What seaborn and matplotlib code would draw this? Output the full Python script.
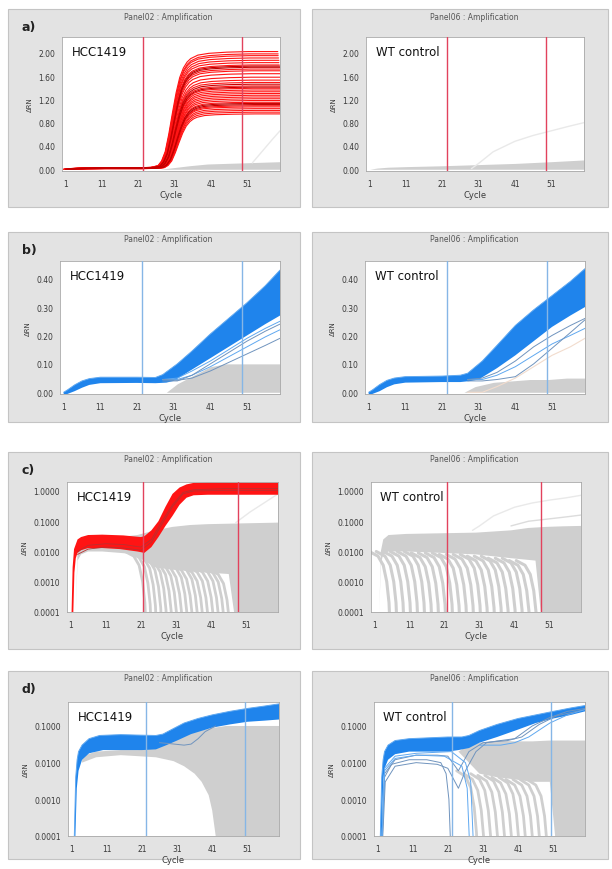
import matplotlib
matplotlib.use("Agg")
import numpy as np
import pandas as pd
import matplotlib.pyplot as plt
import seaborn as sns
from matplotlib.patches import Rectangle
from matplotlib.ticker import FixedLocator, FixedFormatter, NullLocator

sns.set_theme(style="white")
plt.rcParams['font.family'] = ['DejaVu Sans']

# ======================= DATA =======================
x_ticks = [1, 11, 21, 31, 41, 51]
thresholds_ab = [22.3, 49.5]
thresholds_c = [21.6, 48.6]
thresholds_d = [22.3, 50.3]

# ---- a) linear, red (HCC1419) ----
a_cycles = [1, 3, 6, 11, 21, 25, 27, 28, 29, 30, 31, 32, 33, 34, 35, 36, 38, 41, 46, 52, 60]
a_shape = [0.0, 0.006, 0.01, 0.012, 0.012, 0.016, 0.03, 0.07, 0.15, 0.3, 0.48, 0.65,
           0.78, 0.86, 0.91, 0.94, 0.97, 0.985, 0.995, 1.0, 1.0]
a_plateaus_light = [2.02, 1.98, 1.95, 1.91, 1.87, 1.83, 1.79, 1.72, 1.69, 1.64, 1.58,
                    1.53, 1.49, 1.43, 1.39, 1.36, 1.33, 1.30, 1.27, 1.24, 1.21, 1.18,
                    1.15, 1.09, 1.07, 1.04, 1.01, 0.98, 0.95]
a_shifts_light = [-0.6, -0.5, -0.5, -0.4, -0.3, -0.3, -0.2, -0.1, 0.0, 0.0, 0.1,
                  0.2, 0.2, 0.3, 0.4, 0.4, 0.5, 0.5, 0.6, 0.6, 0.7, 0.7,
                  0.8, 0.9, 0.9, 1.0, 1.0, 1.1, 1.2]
a_plateaus_dark = [1.77, 1.75, 1.46, 1.41, 1.13, 1.11]
a_shifts_dark = [-0.1, 0.0, 0.3, 0.4, 0.8, 0.9]
a_left_gray_cycles = [27, 31, 35, 40, 45, 50, 55, 60]
a_left_gray_top = [0.0, 0.03, 0.06, 0.09, 0.10, 0.11, 0.12, 0.13]
a_left_faint_cycles = [52.4, 55, 58, 60]
a_left_faint = [0.11, 0.3, 0.52, 0.66]
a_right_gray_cycles = [1, 3, 6, 11, 21, 31, 41, 51, 60]
a_right_gray_top = [0.0, 0.02, 0.035, 0.045, 0.06, 0.08, 0.10, 0.13, 0.16]
a_right_faint_cycles = [29, 31, 35, 41, 46, 51, 56, 60]
a_right_faint = [0.01, 0.1, 0.3, 0.48, 0.58, 0.66, 0.74, 0.80]

# ---- b) linear, blue ----
b_left_up_cycles = [1, 2, 4, 6, 8, 11, 21, 26, 28, 32, 36, 41, 46, 51, 56, 60]
b_left_up = [0.0, 0.008, 0.026, 0.04, 0.048, 0.053, 0.053, 0.052, 0.062, 0.1, 0.145,
             0.205, 0.26, 0.315, 0.375, 0.43]
b_left_lo_cycles = [1, 2, 4, 6, 8, 11, 21, 26, 29, 31, 36, 41, 46, 51, 56, 60]
b_left_lo = [-0.01, -0.006, 0.004, 0.016, 0.026, 0.032, 0.033, 0.032, 0.034, 0.04,
             0.08, 0.12, 0.16, 0.2, 0.24, 0.27]
b_out_cycles = [28, 32, 36, 41, 46, 51, 56, 60]
b_left_out = [[0.045, 0.05, 0.075, 0.11, 0.15, 0.19, 0.225, 0.25],
              [0.045, 0.045, 0.06, 0.09, 0.125, 0.16, 0.195, 0.22],
              [0.045, 0.042, 0.05, 0.075, 0.105, 0.135, 0.165, 0.19],
              [0.04, 0.04, 0.06, 0.1, 0.14, 0.18, 0.215, 0.24]]
b_left_gray_cycles = [29, 32, 35, 38, 41, 45, 50, 55, 60]
b_left_gray_top = [0.0, 0.03, 0.05, 0.07, 0.09, 0.10, 0.10, 0.10, 0.10]

b_right_up_cycles = [1, 2, 4, 6, 8, 11, 21, 26, 28, 32, 36, 41, 46, 51, 56, 60]
b_right_up = [0.0, 0.008, 0.027, 0.042, 0.05, 0.055, 0.057, 0.06, 0.067, 0.11, 0.165,
              0.235, 0.29, 0.34, 0.39, 0.435]
b_right_lo_cycles = [1, 2, 4, 6, 8, 11, 21, 26, 29, 31, 36, 41, 46, 51, 56, 60]
b_right_lo = [-0.01, -0.006, 0.004, 0.018, 0.028, 0.034, 0.036, 0.036, 0.04, 0.045,
              0.085, 0.13, 0.18, 0.23, 0.27, 0.30]
b_right_out = [[0.045, 0.05, 0.07, 0.11, 0.16, 0.2, 0.235, 0.26],
               [0.045, 0.045, 0.06, 0.09, 0.13, 0.17, 0.2, 0.225],
               [0.04, 0.04, 0.045, 0.055, 0.1, 0.155, 0.21, 0.255]]
b_right_faint = [0.0, 0.0, 0.02, 0.05, 0.09, 0.13, 0.16, 0.19]
b_right_gray_cycles = [27, 30, 35, 40, 45, 50, 55, 60]
b_right_gray_top = [0.0, 0.02, 0.035, 0.04, 0.045, 0.045, 0.05, 0.05]

# ---- c) log, red ----
c_up_cycles = [1.3, 1.6, 2, 3, 4, 6, 10, 16, 21, 22, 24, 26, 28, 30, 32, 34, 36, 40, 60]
c_up = [1e-4, 0.003, 0.012, 0.025, 0.03, 0.035, 0.036, 0.034, 0.03, 0.032, 0.05, 0.1,
        0.3, 0.8, 1.3, 1.65, 1.85, 1.9, 1.9]
c_lo_cycles = [1.8, 2.1, 2.5, 3, 4, 6, 10, 15, 20, 22, 24, 26, 28, 30, 32, 34, 36, 40, 60]
c_lo = [1e-4, 0.002, 0.006, 0.009, 0.011, 0.013, 0.013, 0.012, 0.01, 0.009, 0.014, 0.03,
        0.07, 0.15, 0.35, 0.6, 0.72, 0.75, 0.75]
c_dark_cycles = [3, 6, 11, 16, 21, 24, 27, 30, 33, 36, 45, 60]
c_dark = [[0.008, 0.012, 0.014, 0.013, 0.011, 0.02, 0.08, 0.3, 0.8, 1.0, 1.05, 1.05],
          [0.01, 0.016, 0.018, 0.017, 0.014, 0.025, 0.1, 0.35, 0.9, 1.1, 1.2, 1.2]]
c_left_gray_top_cycles = [2.5, 3, 4, 6, 10, 15, 20, 25, 30, 35, 40, 50, 60]
c_left_gray_top = [1e-4, 0.01, 0.02, 0.025, 0.028, 0.03, 0.035, 0.05, 0.065, 0.075,
                   0.08, 0.085, 0.09]
c_left_gray_bot_cycles = [2.5, 3, 4, 6, 10, 15, 20, 22, 25, 30, 40, 46, 47.5, 60]
c_left_gray_bot = [1e-4, 0.005, 0.008, 0.01, 0.01, 0.009, 0.008, 0.005, 0.003, 0.0025,
                   0.002, 0.0018, 1e-4, 1e-4]
c_left_drops = [22.5, 24, 25.5, 27, 28.5, 30, 31.5, 33, 34.5, 36, 37.5, 39, 40.5, 42,
                43.5, 45, 46.5]
c_left_drop_levels = [0.01, 0.009, 0.008, 0.007, 0.006, 0.005, 0.0045, 0.004, 0.004,
                      0.0035, 0.0035, 0.003, 0.003, 0.003, 0.003, 0.0028, 0.0025]
c_left_faint_cycles = [48, 52, 56, 60]
c_left_faint = [0.09, 0.2, 0.4, 0.8]

c_right_gray_top_cycles = [2.4, 2.8, 3.5, 5, 10, 20, 30, 40, 45, 50, 55, 60]
c_right_gray_top = [1e-4, 0.01, 0.025, 0.035, 0.038, 0.04, 0.042, 0.05, 0.06, 0.065,
                    0.068, 0.07]
c_right_gray_bot_cycles = [2.4, 2.8, 3.5, 5, 10, 20, 30, 40, 47, 48.5, 60]
c_right_gray_bot = [1e-4, 0.004, 0.008, 0.01, 0.01, 0.009, 0.008, 0.006, 0.005, 1e-4, 1e-4]
c_right_drops = [5.5, 7.5, 9.5, 11.5, 13.5, 15.5, 17.5, 19.5, 21.5, 23.5, 25.5, 27.5,
                 29.5, 31.5, 33.5, 35.5, 37.5, 39.5, 41.5, 43.5, 45.5, 47.5]
c_right_drop_levels = [0.01, 0.01, 0.01, 0.01, 0.01, 0.01, 0.009, 0.009, 0.009, 0.009,
                       0.008, 0.008, 0.008, 0.008, 0.007, 0.007, 0.007, 0.006, 0.006,
                       0.006, 0.005, 0.005]
c_right_faint1_cycles = [29, 31, 35, 41, 46, 51, 56, 60]
c_right_faint1 = [0.05, 0.07, 0.15, 0.29, 0.4, 0.5, 0.6, 0.72]
c_right_faint2_cycles = [40, 45, 51, 56, 60]
c_right_faint2 = [0.07, 0.1, 0.12, 0.14, 0.16]

# ---- d) log, blue ----
d_left_up_cycles = [1.8, 2.2, 2.6, 3, 4, 6, 9, 15, 21, 25, 27, 30, 33, 37, 41, 46, 51, 56, 60]
d_left_up = [1e-4, 0.004, 0.012, 0.02, 0.03, 0.045, 0.055, 0.058, 0.056, 0.055, 0.06,
             0.085, 0.12, 0.16, 0.2, 0.25, 0.3, 0.35, 0.4]
d_left_lo_cycles = [2.1, 2.5, 3, 4, 6, 10, 21, 25, 28, 31, 35, 41, 46, 51, 56, 60]
d_left_lo = [1e-4, 0.002, 0.006, 0.012, 0.018, 0.022, 0.022, 0.023, 0.03, 0.04, 0.06,
             0.09, 0.11, 0.13, 0.14, 0.15]
d_left_odd_cycles = [26, 29, 33, 35, 37, 39, 42]
d_left_odd = [0.035, 0.033, 0.03, 0.032, 0.045, 0.07, 0.1]
d_left_gray_top_cycles = [4, 8, 15, 20, 25, 30, 35, 40, 45, 50, 60]
d_left_gray_top = [0.015, 0.02, 0.022, 0.022, 0.028, 0.045, 0.065, 0.085, 0.1, 0.1, 0.1]
d_left_gray_bot_cycles = [4, 8, 15, 20, 25, 30, 33, 36, 38, 40, 41, 42, 60]
d_left_gray_bot = [0.01, 0.014, 0.016, 0.015, 0.014, 0.011, 0.008, 0.005, 0.003, 0.0013,
                   0.0005, 1e-4, 1e-4]

d_right_up_cycles = [1.8, 2.2, 2.6, 3, 4, 6, 10, 21, 25, 27, 30, 35, 41, 46, 51, 56, 60]
d_right_up = [1e-4, 0.004, 0.012, 0.02, 0.03, 0.04, 0.045, 0.05, 0.05, 0.055, 0.075,
              0.11, 0.16, 0.2, 0.25, 0.31, 0.36]
d_right_lo_cycles = [2.2, 2.6, 3, 4, 6, 10, 21, 24, 27, 30, 35, 41, 46, 51, 56, 60]
d_right_lo = [1e-4, 0.003, 0.007, 0.012, 0.017, 0.02, 0.02, 0.022, 0.025, 0.035, 0.05,
              0.08, 0.12, 0.16, 0.2, 0.25]
d_right_odd = [
    ([2.3, 3, 5, 10, 15, 19, 20.5, 21.3, 21.8],
     [1e-4, 0.004, 0.009, 0.012, 0.012, 0.01, 0.005, 0.001, 5e-5]),
    ([2.5, 3.2, 6, 12, 18, 21, 24, 26, 29, 32, 36, 40, 45, 50, 55, 60],
     [1e-4, 0.003, 0.008, 0.01, 0.009, 0.007, 0.002, 0.006, 0.02, 0.035, 0.04, 0.045,
      0.1, 0.17, 0.25, 0.3]),
    ([2.4, 3, 6, 12, 18, 21, 24, 27, 31, 38, 42, 47, 52, 60],
     [1e-4, 0.005, 0.012, 0.016, 0.016, 0.015, 0.006, 0.02, 0.035, 0.04, 0.05, 0.11,
      0.19, 0.28]),
    ([2.3, 3, 6, 12, 20, 25, 26.5, 27.2],
     [1e-4, 0.006, 0.013, 0.016, 0.015, 0.008, 0.002, 5e-5]),
    ([2.3, 3, 6, 12, 22, 26, 27.5, 28.3],
     [1e-4, 0.007, 0.015, 0.018, 0.02, 0.01, 0.003, 5e-5]),
    ([30, 36, 40, 44, 50, 55, 60],
     [0.03, 0.03, 0.035, 0.05, 0.12, 0.2, 0.28]),
]
d_right_gray_top_cycles = [24, 27, 30, 35, 40, 45, 50, 55, 60]
d_right_gray_top = [0.02, 0.03, 0.035, 0.04, 0.038, 0.038, 0.04, 0.04, 0.04]
d_right_gray_bot_cycles = [24, 27, 30, 35, 40, 45, 50, 51.5, 60]
d_right_gray_bot = [0.02, 0.01, 0.005, 0.004, 0.0035, 0.003, 0.003, 1e-4, 1e-4]
d_right_drops = [29.5, 31.5, 33.5, 35.5, 37.5, 39.5, 41.5, 43.5, 45.5, 47.5, 49.5]
d_right_drop_levels = [0.006, 0.005, 0.005, 0.0045, 0.0045, 0.004, 0.004, 0.0035,
                       0.0035, 0.0035, 0.0035]

# shape of a diving (negative-going) background curve, relative to its drop cycle
dive_dx = [-6.0, -3.5, -2.0, -1.0, -0.35, 0.0]
dive_frac = [1.0, 0.7, 0.35, 0.1, 0.02, 0.002]

# ======================= STYLE =======================
W, H = 612, 870
RED = "#ff1414"
DARKRED = "#c40000"
BLUE = "#1f84ec"
LBLUE = "#5fa8f0"
GBLUE = "#7094be"
GRAY = "#cfcfcf"
FAINT = "#e9e9e9"
TH_RED = "#e2425c"
TH_BLUE = "#86b6e6"
BOX = "#e3e3e3"

fig = plt.figure(figsize=(W / 100, H / 100), dpi=100)
fig.patch.set_facecolor("white")


def frect(x0, y0, x1, y1):
    return [x0 / W, 1 - y1 / H, (x1 - x0) / W, (y1 - y0) / H]


rows_box = [(10, 208), (233, 423), (453, 650), (672, 860)]
cols_box = [(8, 300), (312, 608)]
axes_px = {
    ("a", 0): (62, 38, 280, 172), ("a", 1): (366, 38, 584, 172),
    ("b", 0): (60, 262, 280, 395), ("b", 1): (365, 262, 585, 395),
    ("c", 0): (67, 483, 278, 613), ("c", 1): (371, 483, 581, 613),
    ("d", 0): (68, 703, 279, 837), ("d", 1): (374, 703, 585, 837),
}
row_keys = ["a", "b", "c", "d"]

for (y0, y1) in rows_box:
    for (x0, x1) in cols_box:
        r = Rectangle((x0 / W, 1 - y1 / H), (x1 - x0) / W, (y1 - y0) / H,
                      transform=fig.transFigure, facecolor=BOX, edgecolor="#c4c4c4",
                      lw=0.8, zorder=0)
        fig.add_artist(r)


def curves_df(curves):
    recs = []
    for i, (xs, ys) in enumerate(curves):
        for x, y in zip(xs, ys):
            recs.append((i, x, y))
    return pd.DataFrame(recs, columns=["well", "cycle", "drn"])


def draw(ax, curves, color, lw, alpha=1.0, z=2):
    if not curves:
        return
    df = curves_df(curves)
    sns.lineplot(data=df, x="cycle", y="drn", units="well", estimator=None,
                 color=color, lw=lw, alpha=alpha, ax=ax, legend=False, sort=False,
                 zorder=z)


def band(ax, xu, yu, xl, yl, color, z=2):
    ax.fill(list(xu) + list(xl)[::-1], list(yu) + list(yl)[::-1], color=color,
            lw=0, zorder=z)


def dives(drops, levels):
    out = []
    for d, p in zip(drops, levels):
        out.append(([d + dx for dx in dive_dx], [p * f for f in dive_frac]))
    return out


def style(ax, key, ylim, yticks, ylabels):
    ax.set_xlim(0, 60)
    ax.set_ylim(*ylim)
    ax.xaxis.set_major_locator(FixedLocator(x_ticks))
    ax.xaxis.set_major_formatter(FixedFormatter([str(t) for t in x_ticks]))
    ax.yaxis.set_major_locator(FixedLocator(yticks))
    ax.yaxis.set_major_formatter(FixedFormatter(ylabels))
    ax.xaxis.set_minor_locator(NullLocator())
    ax.yaxis.set_minor_locator(NullLocator())
    ax.tick_params(axis="both", labelsize=5.5, colors="#9a9a9a", labelcolor="#3a3a3a",
                   length=2, width=0.5, pad=2, direction="out")
    ax.tick_params(axis="x", pad=4)
    ax.tick_params(axis="y", pad=3)
    for s in ax.spines.values():
        s.set_color("#a8a8a8")
        s.set_linewidth(0.6)
    ax.set_xlabel("Cycle", fontsize=6, color="#3a3a3a", labelpad=1)
    ax.set_ylabel("ΔRN", fontsize=5, color="#3a3a3a", labelpad=4)
    ax.set_facecolor("white")


axes = {}
for ri, key in enumerate(row_keys):
    for ci in range(2):
        x0, y0, x1, y1 = axes_px[(key, ci)]
        ax = fig.add_axes(frect(x0, y0, x1, y1), zorder=1)
        if key in ("c", "d"):
            ax.set_yscale("log")
        axes[(key, ci)] = ax

# ---------------- a ----------------
ax = axes[("a", 0)]
ax.fill_between(a_left_gray_cycles, 0, a_left_gray_top, color=GRAY, lw=0, zorder=1)
draw(ax, [(a_left_faint_cycles, a_left_faint)], FAINT, 1.0, z=1.5)
draw(ax, [([c + s for c in a_cycles], [p * v for v in a_shape])
          for p, s in zip(a_plateaus_light, a_shifts_light)], RED, 0.8)
draw(ax, [([c + s for c in a_cycles], [p * v for v in a_shape])
          for p, s in zip(a_plateaus_dark, a_shifts_dark)], DARKRED, 0.8)
ax = axes[("a", 1)]
ax.fill_between(a_right_gray_cycles, 0, a_right_gray_top, color=GRAY, lw=0, zorder=1)
draw(ax, [(a_right_faint_cycles, a_right_faint)], FAINT, 1.0, z=1.5)

# ---------------- b ----------------
ax = axes[("b", 0)]
ax.fill_between(b_left_gray_cycles, 0, b_left_gray_top, color=GRAY, lw=0, zorder=1)
band(ax, b_left_up_cycles, b_left_up, b_left_lo_cycles, b_left_lo, BLUE)
draw(ax, [(b_left_up_cycles, b_left_up)], LBLUE, 0.7, z=2.1)
draw(ax, [(b_out_cycles, v) for v in b_left_out[:2]], LBLUE, 0.7, z=2.1)
draw(ax, [(b_out_cycles, v) for v in b_left_out[2:]], GBLUE, 0.7, z=2.1)
ax = axes[("b", 1)]
ax.fill_between(b_right_gray_cycles, 0, b_right_gray_top, color=GRAY, lw=0, zorder=1)
draw(ax, [(b_out_cycles, b_right_faint)], "#f2dccd", 0.8, z=1.5)
band(ax, b_right_up_cycles, b_right_up, b_right_lo_cycles, b_right_lo, BLUE)
draw(ax, [(b_right_up_cycles, b_right_up)], LBLUE, 0.7, z=2.1)
draw(ax, [(b_out_cycles, b_right_out[1])], LBLUE, 0.7, z=2.1)
draw(ax, [(b_out_cycles, v) for v in (b_right_out[0], b_right_out[2])], GBLUE, 0.7, z=2.1)

# ---------------- c ----------------
ax = axes[("c", 0)]
band(ax, c_left_gray_top_cycles, c_left_gray_top, c_left_gray_bot_cycles,
     c_left_gray_bot, GRAY, z=1)
draw(ax, dives(c_left_drops, c_left_drop_levels), GRAY, 2.0, z=1)
draw(ax, [(c_left_faint_cycles, c_left_faint)], FAINT, 1.0, z=1.5)
band(ax, c_up_cycles, c_up, c_lo_cycles, c_lo, RED)
draw(ax, [(c_dark_cycles, v) for v in c_dark], "#b83030", 0.6, z=2.1)
ax = axes[("c", 1)]
band(ax, c_right_gray_top_cycles, c_right_gray_top, c_right_gray_bot_cycles,
     c_right_gray_bot, GRAY, z=1)
draw(ax, dives(c_right_drops, c_right_drop_levels), GRAY, 2.2, z=1)
draw(ax, [(c_right_faint1_cycles, c_right_faint1)], FAINT, 1.0, z=1.5)
draw(ax, [(c_right_faint2_cycles, c_right_faint2)], "#dcdcdc", 1.0, z=1.5)

# ---------------- d ----------------
ax = axes[("d", 0)]
band(ax, d_left_gray_top_cycles, d_left_gray_top, d_left_gray_bot_cycles,
     d_left_gray_bot, GRAY, z=1)
band(ax, d_left_up_cycles, d_left_up, d_left_lo_cycles, d_left_lo, BLUE)
draw(ax, [(d_left_up_cycles, d_left_up)], LBLUE, 0.7, z=2.1)
draw(ax, [(d_left_odd_cycles, d_left_odd)], GBLUE, 0.7, z=2.1)
ax = axes[("d", 1)]
band(ax, d_right_gray_top_cycles, d_right_gray_top, d_right_gray_bot_cycles,
     d_right_gray_bot, GRAY, z=1)
draw(ax, dives(d_right_drops, d_right_drop_levels), GRAY, 2.0, z=1)
band(ax, d_right_up_cycles, d_right_up, d_right_lo_cycles, d_right_lo, BLUE)
draw(ax, [(d_right_up_cycles, d_right_up)], LBLUE, 0.7, z=2.1)
draw(ax, d_right_odd[:3], GBLUE, 0.7, z=2.1)
draw(ax, d_right_odd[3:], LBLUE, 0.7, z=2.1)

# ---------------- styling, thresholds, texts ----------------
lin_a = ([0.0, 0.4, 0.8, 1.2, 1.6, 2.0], ["0.00", "0.40", "0.80", "1.20", "1.60", "2.00"])
lin_b = ([0.0, 0.1, 0.2, 0.3, 0.4], ["0.00", "0.10", "0.20", "0.30", "0.40"])
log_c = ([1e-4, 1e-3, 1e-2, 1e-1, 1.0], ["0.0001", "0.0010", "0.0100", "0.1000", "1.0000"])
log_d = ([1e-4, 1e-3, 1e-2, 1e-1], ["0.0001", "0.0010", "0.0100", "0.1000"])
cfg = {
    "a": ((-0.03, 2.27), lin_a, thresholds_ab, TH_RED),
    "b": ((-0.006, 0.462), lin_b, thresholds_ab, TH_BLUE),
    "c": ((1e-4, 1.98), log_c, thresholds_c, TH_RED),
    "d": ((1e-4, 0.45), log_d, thresholds_d, TH_BLUE),
}
inner_text = ["HCC1419", "WT control"]
titles = ["Panel02 : Amplification", "Panel06 : Amplification"]
for ri, key in enumerate(row_keys):
    ylim, (yt, yl), ths, thc = cfg[key]
    for ci in range(2):
        ax = axes[(key, ci)]
        style(ax, key, ylim, yt, yl)
        for t in ths:
            ax.axvline(t, color=thc, lw=1.0, zorder=3)
        ax.text(0.045, 0.89, inner_text[ci], transform=ax.transAxes, fontsize=8.5,
                color="#111111", va="center", ha="left", zorder=4)
        bx0, bx1 = cols_box[ci]
        by0, by1 = rows_box[ri]
        fig.text(((bx0 + bx1) / 2 + 14) / W, 1 - (by0 + 7) / H, titles[ci],
                 fontsize=5.5, color="#555555", ha="center", va="center")
    fig.text(22 / W, 1 - (rows_box[ri][0] + 18) / H, key + ")", fontsize=9,
             fontweight="bold", color="#222222", ha="left", va="center")

fig.savefig("out.png", dpi=100, facecolor="white")
